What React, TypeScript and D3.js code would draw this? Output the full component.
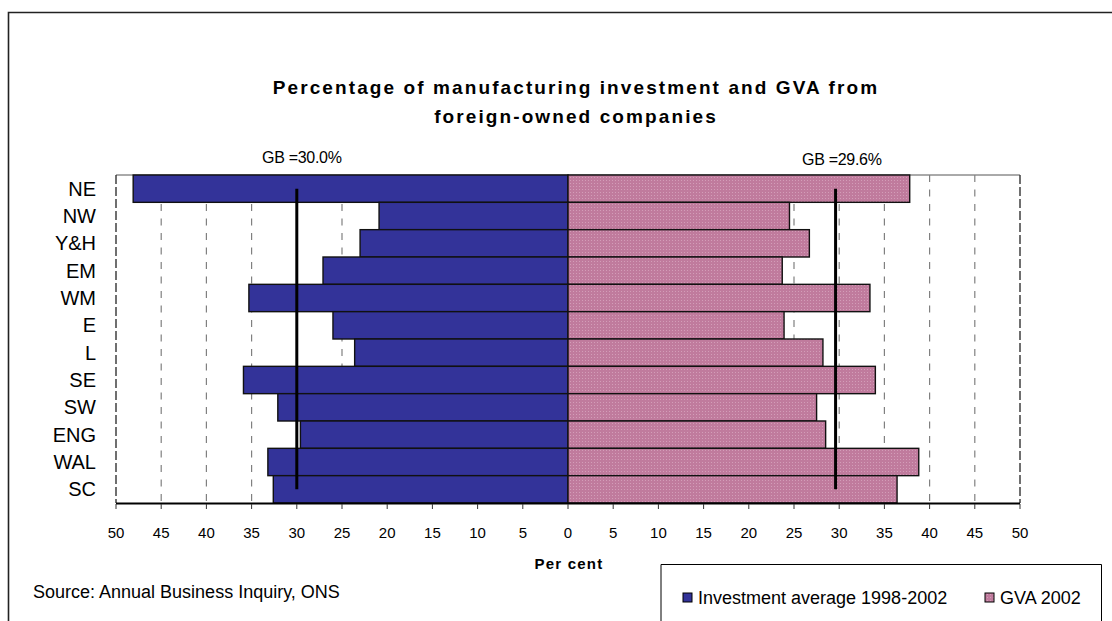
import React from "react";
import * as d3 from "d3";

const categories = ["NE", "NW", "Y&H", "EM", "WM", "E", "L", "SE", "SW", "ENG", "WAL", "SC"];
const investment = [48.1, 20.9, 23.0, 27.1, 35.3, 26.0, 23.6, 35.9, 32.1, 29.6, 33.2, 32.6];
const gva = [37.8, 24.5, 26.7, 23.7, 33.4, 23.9, 28.2, 34.0, 27.5, 28.5, 38.8, 36.4];
const gbInvestment = 30.0;
const gbGva = 29.6;
const tickValues = [-50, -45, -40, -35, -30, -25, -20, -15, -10, -5, 0, 5, 10, 15, 20, 25, 30, 35, 40, 45, 50];
const titleLines = ["Percentage of manufacturing investment and GVA from", "foreign-owned companies"];
const seriesNames = ["Investment average 1998-2002", "GVA 2002"];

const W = 1112;
const H = 621;
const FONT = "'Liberation Sans', Arial, Helvetica, sans-serif";

export default function App() {
  const x = d3.scaleLinear().domain([-50, 50]).range([116, 1020]);
  const y = d3.scaleBand<string>().domain(categories).range([175, 503]).padding(0);
  const bw = y.bandwidth();
  const yTop = y.range()[0];
  const yBot = y.range()[1];
  const firstC = (y(categories[0]) as number) + bw / 2;
  const lastC = (y(categories[categories.length - 1]) as number) + bw / 2;
  const gridVals = tickValues.filter((v) => v !== 0 && Math.abs(v) !== 50);

  return (
    <svg width={W} height={H} style={{ position: "absolute", left: 0, top: 0, background: "#fff" }} fontFamily={FONT}>
      <defs>
        <pattern id="pinkDots" width="3" height="3" patternUnits="userSpaceOnUse">
          <rect width="3" height="3" fill="#c07b9d" />
          <rect x="0" y="0" width="1" height="1" fill="#d39db8" />
        </pattern>
      </defs>
      <rect width={W} height={H} fill="#fff" />
      {/* outer frame */}
      <path d={`M8.5,${H} V12.5 H${W}`} fill="none" stroke="#222" strokeWidth={1.6} />

      {/* title */}
      {titleLines.map((t, i) => (
        <text key={i} x={576} y={94 + i * 29} textAnchor="middle" fontSize={19} fontWeight="bold" letterSpacing={2.1} fill="#000">
          {t}
        </text>
      ))}

      {/* plot top border */}
      <line x1={x(-50)} x2={x(50)} y1={yTop} y2={yTop} stroke="#555" strokeWidth={1} />
      {/* gridlines */}
      {gridVals.map((v) => (
        <line key={v} x1={x(v)} x2={x(v)} y1={yTop} y2={yBot} stroke="#808080" strokeWidth={1.2} strokeDasharray="7,7.5" />
      ))}
      {[-50, 50].map((v) => (
        <line key={v} x1={x(v)} x2={x(v)} y1={yTop} y2={yBot} stroke="#333" strokeWidth={1.4} strokeDasharray="9,3" />
      ))}

      {/* bars */}
      {categories.map((c, i) => (
        <g key={c}>
          <rect x={x(-investment[i])} y={y(c) as number} width={x(0) - x(-investment[i])} height={bw} fill="#333399" stroke="#111" strokeWidth={1.4} />
          <rect x={x(0)} y={y(c) as number} width={x(gva[i]) - x(0)} height={bw} fill="url(#pinkDots)" stroke="#111" strokeWidth={1.4} />
        </g>
      ))}

      {/* GB lines */}
      <line x1={x(-gbInvestment)} x2={x(-gbInvestment)} y1={firstC} y2={lastC} stroke="#000" strokeWidth={3} />
      <line x1={x(gbGva)} x2={x(gbGva)} y1={firstC} y2={lastC} stroke="#000" strokeWidth={3} />
      <text x={262} y={163} fontSize={16} fill="#000" letterSpacing={-0.3}>{`GB =${gbInvestment.toFixed(1)}%`}</text>
      <text x={802} y={165} fontSize={16} fill="#000" letterSpacing={-0.3}>{`GB =${gbGva.toFixed(1)}%`}</text>

      {/* axis */}
      <line x1={x(-50)} x2={x(50)} y1={yBot + 0.5} y2={yBot + 0.5} stroke="#000" strokeWidth={2} />
      {tickValues.map((v) => (
        <g key={v}>
          <line x1={x(v)} x2={x(v)} y1={yBot + 1} y2={yBot + 6} stroke="#333" strokeWidth={1} />
          <text x={x(v)} y={538} textAnchor="middle" fontSize={15} fill="#000">
            {Math.abs(v)}
          </text>
        </g>
      ))}

      {/* category labels */}
      {categories.map((c) => (
        <text key={c} x={96} y={(y(c) as number) + bw / 2 + 7} textAnchor="end" fontSize={20} fill="#000">
          {c}
        </text>
      ))}

      <text x={569} y={569} textAnchor="middle" fontSize={15} fontWeight="bold" letterSpacing={1.2} fill="#000">Per cent</text>
      <text x={33} y={598} fontSize={18} fill="#000">Source: Annual Business Inquiry, ONS</text>

      {/* legend */}
      <path d={`M661,${H} V564.5 H1101.5 V${H}`} fill="none" stroke="#000" strokeWidth={1} />
      <rect x={683} y={593} width={9} height={9} fill="#333399" stroke="#000" strokeWidth={1} />
      <text x={698} y={604} fontSize={18} fill="#000">{seriesNames[0]}</text>
      <rect x={985} y={593} width={9} height={9} fill="url(#pinkDots)" stroke="#000" strokeWidth={1} />
      <text x={1000} y={604} fontSize={18} fill="#000">{seriesNames[1]}</text>
    </svg>
  );
}
